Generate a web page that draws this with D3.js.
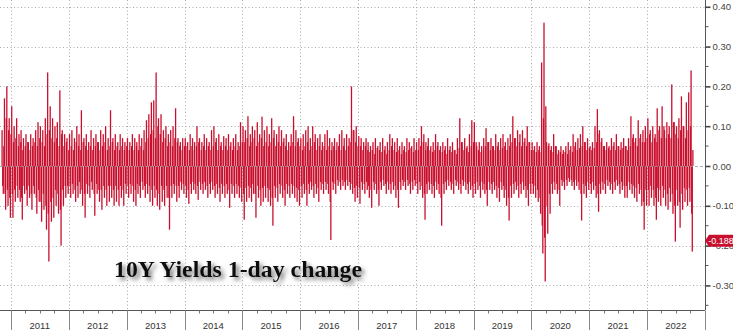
<!DOCTYPE html>
<html>
<head>
<meta charset="utf-8">
<script src="https://cdn.jsdelivr.net/npm/d3@7"></script>
<style>
  body { margin: 0; background: #fff; }
  svg { display: block; }
</style>
</head>
<body>
<div id="vis"></div>
<script>
// semi-monthly 1-day changes (1st and 16th of each month):
// largest rise / fall in each half month, and a second, more typical rise / fall
const firstPeriod = new Date(2010, 10, 1);
const ups = [
  0.09, 0.17, 0.20, 0.12,
  0.15, 0.10, 0.12, 0.08, 0.09, 0.07, 0.08, 0.06, 0.08, 0.07, 0.09, 0.11, 0.10, 0.09, 0.12, 0.235, 0.15, 0.12, 0.10, 0.11, 0.19, 0.09, 0.08, 0.07,
  0.08, 0.09, 0.07, 0.10, 0.08, 0.14, 0.07, 0.08, 0.06, 0.09, 0.07, 0.08, 0.06, 0.09, 0.08, 0.10, 0.07, 0.14, 0.07, 0.08, 0.06, 0.08, 0.07, 0.06,
  0.07, 0.06, 0.08, 0.07, 0.06, 0.08, 0.07, 0.09, 0.115, 0.13, 0.16, 0.165, 0.235, 0.12, 0.13, 0.09, 0.10, 0.08, 0.09, 0.10, 0.145, 0.07, 0.06, 0.07,
  0.07, 0.06, 0.08, 0.07, 0.06, 0.10, 0.07, 0.06, 0.08, 0.07, 0.06, 0.09, 0.10, 0.07, 0.08, 0.06, 0.075, 0.07, 0.08, 0.06, 0.07, 0.08, 0.06, 0.11,
  0.10, 0.09, 0.125, 0.08, 0.10, 0.09, 0.11, 0.08, 0.124, 0.09, 0.10, 0.08, 0.12, 0.09, 0.08, 0.10, 0.09, 0.07, 0.08, 0.06, 0.08, 0.125, 0.09, 0.07,
  0.07, 0.08, 0.09, 0.10, 0.07, 0.10, 0.08, 0.07, 0.08, 0.06, 0.08, 0.09, 0.07, 0.06, 0.07, 0.06, 0.08, 0.09, 0.07, 0.08, 0.07, 0.20, 0.09, 0.10,
  0.075, 0.07, 0.06, 0.07, 0.06, 0.05, 0.06, 0.07, 0.05, 0.06, 0.07, 0.05, 0.06, 0.08, 0.07, 0.06, 0.07, 0.05, 0.06, 0.05, 0.07, 0.06, 0.05, 0.07,
  0.06, 0.07, 0.10, 0.08, 0.06, 0.07, 0.05, 0.06, 0.08, 0.06, 0.05, 0.06, 0.05, 0.07, 0.05, 0.06, 0.04, 0.07, 0.12, 0.06, 0.07, 0.05, 0.08, 0.115,
  0.11, 0.05, 0.06, 0.05, 0.07, 0.095, 0.06, 0.07, 0.05, 0.08, 0.06, 0.07, 0.08, 0.06, 0.07, 0.08, 0.125, 0.07, 0.09, 0.08, 0.09, 0.07, 0.10, 0.06,
  0.06, 0.05, 0.06, 0.05, 0.26, 0.36, 0.06, 0.057, 0.05, 0.08, 0.05, 0.04, 0.05, 0.04, 0.05, 0.06, 0.05, 0.08, 0.06, 0.07, 0.08, 0.10, 0.06, 0.07,
  0.05, 0.06, 0.10, 0.143, 0.09, 0.07, 0.05, 0.06, 0.05, 0.07, 0.06, 0.08, 0.05, 0.06, 0.07, 0.05, 0.07, 0.125, 0.08, 0.07, 0.115, 0.08, 0.09, 0.10,
  0.12, 0.09, 0.10, 0.08, 0.145, 0.10, 0.15, 0.09, 0.11, 0.10, 0.205, 0.11, 0.10, 0.12, 0.175, 0.10, 0.16, 0.185, 0.24
];
const downs = [
  -0.07, -0.11, -0.10, -0.13,
  -0.13, -0.09, -0.08, -0.09, -0.135, -0.07, -0.10, -0.08, -0.11, -0.07, -0.12, -0.09, -0.14, -0.11, -0.16, -0.24, -0.14, -0.13, -0.10, -0.12, -0.20, -0.10, -0.08, -0.07,
  -0.08, -0.07, -0.09, -0.08, -0.07, -0.10, -0.13, -0.07, -0.08, -0.06, -0.125, -0.07, -0.09, -0.11, -0.08, -0.10, -0.09, -0.08, -0.10, -0.09, -0.10, -0.08, -0.10, -0.07,
  -0.08, -0.07, -0.09, -0.10, -0.07, -0.08, -0.06, -0.08, -0.07, -0.09, -0.10, -0.08, -0.10, -0.11, -0.09, -0.10, -0.08, -0.16, -0.08, -0.07, -0.09, -0.08, -0.06, -0.07,
  -0.08, -0.095, -0.07, -0.06, -0.07, -0.085, -0.06, -0.07, -0.06, -0.08, -0.07, -0.06, -0.08, -0.07, -0.09, -0.07, -0.08, -0.07, -0.105, -0.07, -0.08, -0.07, -0.08, -0.09,
  -0.135, -0.09, -0.08, -0.09, -0.07, -0.13, -0.08, -0.10, -0.09, -0.08, -0.09, -0.10, -0.15, -0.08, -0.09, -0.07, -0.08, -0.10, -0.07, -0.08, -0.07, -0.08, -0.09, -0.10,
  -0.08, -0.07, -0.10, -0.07, -0.06, -0.08, -0.07, -0.09, -0.06, -0.07, -0.06, -0.07, -0.186, -0.06, -0.07, -0.05, -0.06, -0.05, -0.06, -0.05, -0.06, -0.07, -0.09, -0.08,
  -0.095, -0.06, -0.07, -0.06, -0.08, -0.105, -0.06, -0.07, -0.10, -0.06, -0.05, -0.07, -0.06, -0.07, -0.06, -0.08, -0.105, -0.06, -0.05, -0.06, -0.05, -0.07, -0.06, -0.05,
  -0.07, -0.06, -0.08, -0.135, -0.07, -0.06, -0.07, -0.08, -0.06, -0.07, -0.15, -0.07, -0.06, -0.05, -0.06, -0.07, -0.05, -0.06, -0.07, -0.05, -0.06, -0.07, -0.06, -0.08,
  -0.07, -0.06, -0.08, -0.06, -0.07, -0.10, -0.06, -0.07, -0.06, -0.08, -0.09, -0.06, -0.08, -0.10, -0.137, -0.08, -0.07, -0.06, -0.08, -0.07, -0.06, -0.08, -0.10, -0.07,
  -0.07, -0.08, -0.09, -0.12, -0.22, -0.29, -0.17, -0.12, -0.07, -0.06, -0.07, -0.10, -0.05, -0.06, -0.05, -0.04, -0.05, -0.06, -0.05, -0.06, -0.137, -0.07, -0.08, -0.06,
  -0.07, -0.06, -0.08, -0.115, -0.07, -0.06, -0.07, -0.05, -0.06, -0.07, -0.06, -0.05, -0.07, -0.06, -0.08, -0.08, -0.06, -0.07, -0.08, -0.09, -0.07, -0.10, -0.16, -0.10,
  -0.10, -0.08, -0.10, -0.135, -0.09, -0.10, -0.08, -0.10, -0.11, -0.09, -0.12, -0.19, -0.10, -0.155, -0.11, -0.09, -0.10, -0.09, -0.215
];
const ups2 = [
  0.05, 0.12, 0.09, 0.08,
  0.06, 0.07, 0.05, 0.06, 0.04, 0.05, 0.06, 0.04, 0.05, 0.06, 0.05, 0.07, 0.06, 0.05, 0.08, 0.09, 0.07, 0.06, 0.07, 0.05, 0.08, 0.05, 0.06, 0.04,
  0.05, 0.04, 0.06, 0.05, 0.04, 0.06, 0.05, 0.04, 0.05, 0.04, 0.05, 0.06, 0.04, 0.05, 0.06, 0.04, 0.05, 0.06, 0.04, 0.05, 0.04, 0.05, 0.04, 0.05,
  0.04, 0.05, 0.04, 0.05, 0.04, 0.05, 0.04, 0.06, 0.07, 0.08, 0.09, 0.07, 0.10, 0.08, 0.06, 0.07, 0.05, 0.06, 0.05, 0.07, 0.06, 0.05, 0.04, 0.05,
  0.05, 0.04, 0.05, 0.04, 0.05, 0.06, 0.04, 0.05, 0.04, 0.05, 0.04, 0.05, 0.06, 0.04, 0.05, 0.04, 0.05, 0.04, 0.05, 0.04, 0.05, 0.04, 0.05, 0.06,
  0.06, 0.07, 0.05, 0.06, 0.07, 0.05, 0.06, 0.07, 0.05, 0.06, 0.05, 0.06, 0.07, 0.05, 0.06, 0.05, 0.06, 0.05, 0.04, 0.05, 0.06, 0.05, 0.06, 0.05,
  0.04, 0.05, 0.06, 0.04, 0.05, 0.06, 0.04, 0.05, 0.04, 0.05, 0.04, 0.05, 0.04, 0.05, 0.04, 0.05, 0.04, 0.05, 0.04, 0.05, 0.06, 0.09, 0.06, 0.05,
  0.05, 0.04, 0.05, 0.04, 0.035, 0.04, 0.03, 0.045, 0.04, 0.035, 0.04, 0.03, 0.04, 0.05, 0.04, 0.035, 0.04, 0.03, 0.04, 0.035, 0.04, 0.045, 0.035, 0.04,
  0.04, 0.05, 0.06, 0.04, 0.05, 0.04, 0.035, 0.04, 0.05, 0.04, 0.035, 0.04, 0.03, 0.04, 0.035, 0.04, 0.03, 0.045, 0.06, 0.04, 0.045, 0.035, 0.05, 0.06,
  0.06, 0.04, 0.035, 0.04, 0.05, 0.06, 0.04, 0.05, 0.04, 0.05, 0.04, 0.045, 0.05, 0.04, 0.05, 0.06, 0.07, 0.05, 0.06, 0.05, 0.06, 0.05, 0.06, 0.04,
  0.04, 0.035, 0.04, 0.035, 0.12, 0.15, 0.05, 0.04, 0.035, 0.05, 0.03, 0.035, 0.03, 0.035, 0.03, 0.04, 0.035, 0.05, 0.04, 0.045, 0.05, 0.06, 0.04, 0.045,
  0.04, 0.045, 0.06, 0.08, 0.06, 0.05, 0.04, 0.045, 0.04, 0.05, 0.04, 0.05, 0.04, 0.045, 0.05, 0.04, 0.05, 0.07, 0.06, 0.05, 0.07, 0.06, 0.06, 0.07,
  0.08, 0.06, 0.07, 0.06, 0.09, 0.07, 0.10, 0.07, 0.08, 0.07, 0.11, 0.08, 0.07, 0.09, 0.10, 0.07, 0.09, 0.10, 0.04
];
const downs2 = [
  -0.05, -0.07, -0.06, -0.08,
  -0.07, -0.06, -0.05, -0.06, -0.08, -0.05, -0.06, -0.05, -0.07, -0.05, -0.08, -0.06, -0.09, -0.07, -0.10, -0.12, -0.09, -0.08, -0.06, -0.07, -0.11, -0.06, -0.05, -0.05,
  -0.05, -0.045, -0.06, -0.05, -0.04, -0.06, -0.07, -0.045, -0.05, -0.04, -0.07, -0.045, -0.06, -0.06, -0.05, -0.06, -0.05, -0.05, -0.06, -0.05, -0.06, -0.05, -0.06, -0.045,
  -0.05, -0.045, -0.05, -0.06, -0.045, -0.05, -0.04, -0.05, -0.045, -0.05, -0.06, -0.05, -0.06, -0.07, -0.05, -0.06, -0.05, -0.08, -0.05, -0.045, -0.05, -0.05, -0.04, -0.045,
  -0.05, -0.06, -0.045, -0.04, -0.045, -0.05, -0.04, -0.045, -0.04, -0.05, -0.045, -0.04, -0.05, -0.045, -0.055, -0.045, -0.05, -0.045, -0.06, -0.045, -0.05, -0.045, -0.05, -0.055,
  -0.07, -0.055, -0.05, -0.055, -0.045, -0.07, -0.05, -0.06, -0.055, -0.05, -0.055, -0.06, -0.08, -0.05, -0.055, -0.045, -0.05, -0.06, -0.045, -0.05, -0.045, -0.05, -0.055, -0.06,
  -0.05, -0.045, -0.06, -0.045, -0.04, -0.05, -0.045, -0.055, -0.04, -0.045, -0.04, -0.045, -0.09, -0.04, -0.045, -0.035, -0.04, -0.035, -0.04, -0.035, -0.04, -0.045, -0.055, -0.05,
  -0.055, -0.04, -0.045, -0.04, -0.05, -0.06, -0.04, -0.045, -0.06, -0.04, -0.035, -0.045, -0.04, -0.045, -0.04, -0.05, -0.06, -0.04, -0.035, -0.04, -0.035, -0.045, -0.04, -0.035,
  -0.045, -0.04, -0.05, -0.07, -0.045, -0.04, -0.045, -0.05, -0.04, -0.045, -0.08, -0.045, -0.04, -0.035, -0.04, -0.045, -0.035, -0.04, -0.045, -0.035, -0.04, -0.045, -0.04, -0.05,
  -0.045, -0.04, -0.05, -0.04, -0.045, -0.06, -0.04, -0.045, -0.04, -0.05, -0.055, -0.04, -0.05, -0.06, -0.08, -0.05, -0.045, -0.04, -0.05, -0.045, -0.04, -0.05, -0.06, -0.045,
  -0.045, -0.05, -0.06, -0.08, -0.15, -0.18, -0.10, -0.07, -0.045, -0.04, -0.045, -0.06, -0.035, -0.04, -0.035, -0.03, -0.035, -0.04, -0.035, -0.04, -0.07, -0.045, -0.05, -0.04,
  -0.045, -0.04, -0.05, -0.07, -0.045, -0.04, -0.045, -0.035, -0.04, -0.045, -0.04, -0.035, -0.045, -0.04, -0.05, -0.05, -0.04, -0.045, -0.05, -0.055, -0.045, -0.06, -0.09, -0.06,
  -0.06, -0.05, -0.06, -0.08, -0.055, -0.06, -0.05, -0.06, -0.07, -0.055, -0.07, -0.10, -0.06, -0.09, -0.07, -0.055, -0.06, -0.055, -0.12
];
const years = [2011, 2012, 2013, 2014, 2015, 2016, 2017, 2018, 2019, 2020, 2021, 2022];
const yTicks = [0.4, 0.3, 0.2, 0.1, 0, -0.1, -0.2, -0.3];
const lastValue = -0.188;
const title = "10Y Yields 1-day change";

const width = 733;
const height = 330;
const plotRight = 705;
const plotBottom = 310;
const red = "#c8102e";
const axisFont = "'Liberation Sans Narrow', 'Liberation Sans', Arial, sans-serif";

const svg = d3.select("#vis")
        .append("svg")
        .attr("width", width)
        .attr("height", height);

const x = d3.scaleTime()
        .domain([new Date(2010, 9, 23), new Date(2023, 0, 1)])
        .range([0, plotRight]);

const y = d3.scaleLinear()
        .domain([-0.36, 0.417])
        .range([309.3, 0]);

// period dates: 1st and 16th of each month
const periods = ups.map((u, i) => {
  let d = d3.timeMonth.offset(firstPeriod, Math.floor(i / 2));
  return new Date(d.getFullYear(), d.getMonth(), i % 2 ? 16 : 1);
});

// grid
const grid = svg.append("g");
grid.selectAll(".hgrid")
        .data(yTicks.filter(d => d != 0))
        .join("line")
        .attr("x1", 0)
        .attr("x2", plotRight)
        .attr("y1", d => Math.round(y(d)) + 0.5)
        .attr("y2", d => Math.round(y(d)) + 0.5)
        .attr("stroke", "#aaa")
        .attr("stroke-dasharray", "1,2.5");

grid.selectAll(".vgrid")
        .data(years)
        .join("line")
        .attr("x1", d => Math.round(x(new Date(d, 0, 1))) + 0.5)
        .attr("x2", d => Math.round(x(new Date(d, 0, 1))) + 0.5)
        .attr("y1", 0)
        .attr("y2", plotBottom)
        .attr("stroke", "#aaa")
        .attr("stroke-dasharray", "1,2.5");

// bars: four thin bars per half month, rises and falls interleaved
const bars = svg.append("g").attr("fill", red);
const series = [
  {vals: ups, dx: 0},
  {vals: downs2, dx: 0.6},
  {vals: downs, dx: 1.2},
  {vals: ups2, dx: 1.8}
];
series.forEach(s => {
  bars.append("g")
          .selectAll("rect")
          .data(s.vals)
          .join("rect")
          .attr("x", (d, i) => x(periods[i]) + s.dx)
          .attr("width", 1.3)
          .attr("y", d => Math.min(y(d), y(0)))
          .attr("height", d => Math.abs(y(d) - y(0)));
});

// zero line
svg.append("line")
        .attr("x1", 0)
        .attr("x2", plotRight)
        .attr("y1", Math.round(y(0)) + 0.5)
        .attr("y2", Math.round(y(0)) + 0.5)
        .attr("stroke", "#999")
        .attr("stroke-opacity", 0.8)
        .attr("stroke-dasharray", "3,2");

// right axis
const yAxis = d3.axisRight(y)
        .tickValues(yTicks)
        .tickSize(5)
        .tickPadding(2)
        .tickFormat(d3.format(".2f"));

const yAxisGroup = svg.append("g")
        .attr("transform", "translate(" + (plotRight + 0.5) + ",0)")
        .call(yAxis);
yAxisGroup.select(".domain").attr("d", "M0,0V" + plotBottom).attr("stroke", "#555");
yAxisGroup.selectAll(".tick line").attr("stroke", "#444").attr("stroke-width", 1.6);
yAxisGroup.selectAll("text")
        .attr("font-family", axisFont)
        .attr("font-size", 9.5)
        .attr("fill", "#444")
        .text(d => d3.format(".2f")(d).replace("−", "-"));

const minorY = d3.range(-7, 9, 2).map(k => k * 0.05);
yAxisGroup.selectAll(".minor")
        .data(minorY)
        .join("line")
        .attr("x1", 0)
        .attr("x2", 3)
        .attr("y1", d => y(d))
        .attr("y2", d => y(d))
        .attr("stroke", "#555");

// bottom axis
const xAxisGroup = svg.append("g")
        .attr("transform", "translate(0," + (plotBottom + 0.5) + ")");
xAxisGroup.append("line")
        .attr("x1", 0)
        .attr("x2", plotRight)
        .attr("stroke", "#555");
xAxisGroup.selectAll(".major")
        .data(years.concat([2023]))
        .join("line")
        .attr("x1", d => Math.round(x(new Date(d, 0, 1))) + 0.5)
        .attr("x2", d => Math.round(x(new Date(d, 0, 1))) + 0.5)
        .attr("y1", 0)
        .attr("y2", 20)
        .attr("stroke", "#888");
xAxisGroup.selectAll(".minor")
        .data(d3.timeMonth.every(3).range(new Date(2010, 10, 1), new Date(2023, 0, 1)).filter(d => d.getMonth() != 0))
        .join("line")
        .attr("x1", d => Math.round(x(d)) + 0.5)
        .attr("x2", d => Math.round(x(d)) + 0.5)
        .attr("y1", 0)
        .attr("y2", 3)
        .attr("stroke", "#777");
xAxisGroup.selectAll("text")
        .data(years)
        .join("text")
        .attr("x", d => x(new Date(d, 6, 1)))
        .attr("y", 18)
        .attr("text-anchor", "middle")
        .attr("font-family", axisFont)
        .attr("font-size", 9.5)
        .attr("fill", "#333")
        .text(d => d);

// last value label
const ly = y(lastValue);
const label = svg.append("g").attr("transform", "translate(" + plotRight + "," + ly + ")");
label.append("path")
        .attr("d", "M0,0 L4,-6 H28 V6 H4 Z")
        .attr("fill", red);
label.append("text")
        .attr("x", 16)
        .attr("y", 3.2)
        .attr("text-anchor", "middle")
        .attr("font-family", axisFont)
        .attr("font-size", 9)
        .attr("fill", "#fff")
        .text(d3.format(".3f")(lastValue).replace("−", "-"));

// title with soft shadow
const defs = svg.append("defs");
const filter = defs.append("filter")
        .attr("id", "shadow")
        .attr("x", "-10%").attr("y", "-30%")
        .attr("width", "130%").attr("height", "180%");
filter.append("feDropShadow")
        .attr("dx", 3)
        .attr("dy", 3)
        .attr("stdDeviation", 2)
        .attr("flood-color", "#555")
        .attr("flood-opacity", 0.8);

svg.append("text")
        .attr("x", 114)
        .attr("y", 277)
        .attr("font-family", "'Liberation Serif', 'Times New Roman', serif")
        .attr("font-weight", "bold")
        .attr("font-size", 22.5)
        .attr("textLength", 248)
        .attr("lengthAdjust", "spacingAndGlyphs")
        .attr("fill", "#111")
        .attr("filter", "url(#shadow)")
        .text(title);
</script>
</body>
</html>
